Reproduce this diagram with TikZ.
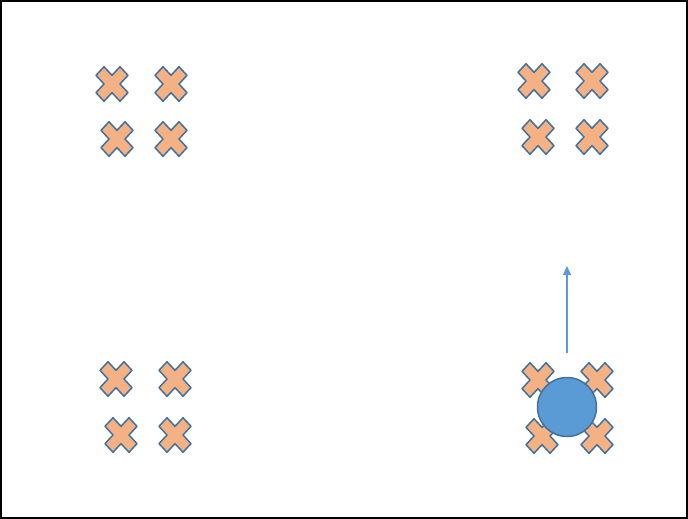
\documentclass[tikz,border=0pt]{standalone}
\usepackage{tikz}
\usepackage{xcolor}
\usetikzlibrary{positioning,arrows.meta}

\definecolor{crossfill}{HTML}{F4B183}
\definecolor{edgeblue}{HTML}{41719C}
\definecolor{ballblue}{HTML}{5B9BD5}

\tikzset{
  crossmark/.pic={
    \filldraw[fill=crossfill, draw=edgeblue, line width=1.5pt, line join=round, yscale=1.08]
      (-16,-8) -- (-8,-16) -- (0,-8) -- (8,-16) -- (16,-8) -- (8,0)
      -- (16,8) -- (8,16) -- (0,8) -- (-8,16) -- (-16,8) -- (-8,0) -- cycle;
  },
  ball/.style={circle, fill=ballblue, draw=edgeblue, line width=1.5pt, minimum size=59pt, inner sep=0pt},
  move/.style={draw=ballblue, line width=1.2pt, -{Triangle[length=9pt,width=8pt]}}
}

\begin{document}
\begin{tikzpicture}[x=1pt, y=-1pt]
      \useasboundingbox (0,0) rectangle (688,519);
      \draw [line width=2pt] (1,1) rectangle (687,518);
      % top left group
      \pic at (112, 84) {crossmark};
      \pic at (171, 84) {crossmark};
      \pic at (117,139) {crossmark};
      \pic at (171,139) {crossmark};
      % top right group
      \pic at (534, 81) {crossmark};
      \pic at (592, 81) {crossmark};
      \pic at (538,137) {crossmark};
      \pic at (592,137) {crossmark};
      % bottom left group
      \pic at (116,379) {crossmark};
      \pic at (175,379) {crossmark};
      \pic at (121,435) {crossmark};
      \pic at (175,435) {crossmark};
      % bottom right group
      \pic at (538,380) {crossmark};
      \pic at (597,380) {crossmark};
      \pic at (542,436) {crossmark};
      \pic at (597,436) {crossmark};
      \node [ball] (agent) at (567,407) {};
      \coordinate (goal) at (567,266);
      \draw [move] ([yshift=24pt]agent.north) -- (goal);
\end{tikzpicture}
\end{document}
